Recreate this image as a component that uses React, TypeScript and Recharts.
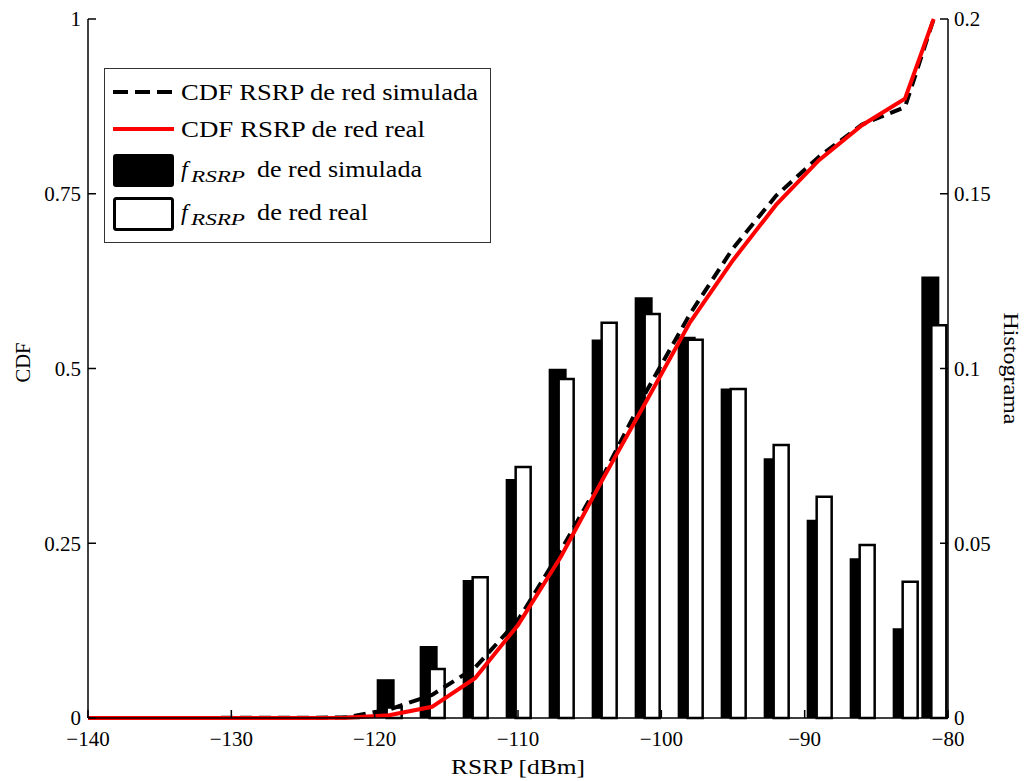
import React from "react";
import { Bar, ComposedChart, Label, Legend, Line, XAxis, YAxis } from "recharts";

// bin centres (dBm), histogram fractions and CDF values
const rsrp = [-140, -125, -122, -119, -116, -113, -110, -107, -104, -101, -98, -95, -92, -89, -86, -83, -81];
const histSim = [null, 0.0003, 0.0006, 0.0111, 0.0206, 0.0395, 0.0684, 0.0999, 0.1083, 0.1204, 0.1091, 0.0943, 0.0743, 0.0567, 0.0457, 0.0257, 0.1263];
const histReal = [null, 0.0001, 0.0003, 0.003, 0.014, 0.0403, 0.0718, 0.097, 0.1131, 0.1156, 0.1082, 0.0941, 0.0781, 0.0633, 0.0495, 0.039, 0.1124];
const cdfSim = [0, 0.0003, 0.001, 0.012, 0.033, 0.072, 0.14, 0.24, 0.349, 0.469, 0.578, 0.672, 0.747, 0.803, 0.849, 0.874, 1.0];
const cdfReal = [0, 0.0001, 0.0005, 0.004, 0.016, 0.057, 0.133, 0.231, 0.345, 0.455, 0.566, 0.655, 0.734, 0.798, 0.848, 0.886, 1.0];

const xTicks = [-140, -130, -120, -110, -100, -90, -80];
const cdfTicks = [0, 0.25, 0.5, 0.75, 1];
const histTicks = [0, 0.05, 0.1, 0.15, 0.2];

const data = rsrp.map((x, i) => ({
  x,
  histSim: histSim[i],
  histReal: histReal[i],
  cdfSim: cdfSim[i],
  cdfReal: cdfReal[i],
}));

const FONT = "'Liberation Serif', 'Times New Roman', serif";
const tickStyle = { fill: "#000", fontSize: 21, fontFamily: FONT };
const minus = (v: number) => (v < 0 ? "\u2212" + Math.abs(v) : String(v));

function LegendBox() {
  return (
    <svg width={388} height={176} style={{ display: "block", fontFamily: FONT }}>
      <rect x={0.5} y={0.5} width={386} height={174} fill="#fff" stroke="#333" strokeWidth={1} />
      <line x1={9} x2={70} y1={24} y2={24} stroke="#000" strokeWidth={4} strokeDasharray="15 7" />
      <text x={77} y={32} fontSize={24} textLength={297} lengthAdjust="spacingAndGlyphs">CDF RSRP de red simulada</text>
      <line x1={9} x2={70} y1={61} y2={61} stroke="#ff0000" strokeWidth={4} />
      <text x={77} y={69} fontSize={24} textLength={244} lengthAdjust="spacingAndGlyphs">CDF RSRP de red real</text>
      <rect x={10} y={87} width={59} height={31} fill="#000" stroke="#000" strokeWidth={2} rx={2} />
      <text x={77} y={109} fontSize={24} fontStyle="italic">f</text>
      <text x={87} y={114} fontSize={16} fontStyle="italic" textLength={54} lengthAdjust="spacingAndGlyphs">RSRP</text>
      <text x={153} y={109} fontSize={24} textLength={165} lengthAdjust="spacingAndGlyphs">de red simulada</text>
      <rect x={10.5} y={130.5} width={58} height={31} fill="#fff" stroke="#000" strokeWidth={3} rx={2} />
      <text x={77} y={152} fontSize={24} fontStyle="italic">f</text>
      <text x={87} y={157} fontSize={16} fontStyle="italic" textLength={54} lengthAdjust="spacingAndGlyphs">RSRP</text>
      <text x={153} y={152} fontSize={24} textLength={111} lengthAdjust="spacingAndGlyphs">de red real</text>
    </svg>
  );
}

export default function App() {
  return (
    <div style={{ position: "absolute", left: 0, top: 0, background: "#fff" }}>
      <ComposedChart
        width={1026}
        height={781}
        data={data}
        margin={{ top: 19, right: 0, bottom: 0, left: 0 }}
        barGap={-8}
      >
        <XAxis
          dataKey="x"
          type="number"
          domain={[-140, -80]}
          ticks={xTicks}
          tickFormatter={minus}
          height={63}
          tick={tickStyle}
          tickSize={-8}
          tickMargin={21}
          stroke="#000"
          strokeWidth={1.5}
        >
          <Label
            content={({ viewBox }: any) => (
              <text
                x={viewBox.x + viewBox.width / 2}
                y={774}
                textAnchor="middle"
                fontSize={22}
                fontFamily={FONT}
                textLength={134}
                lengthAdjust="spacingAndGlyphs"
              >
                RSRP [dBm]
              </text>
            )}
          />
        </XAxis>
        <XAxis
          xAxisId="top"
          orientation="top"
          type="number"
          domain={[-140, -80]}
          ticks={xTicks}
          height={0}
          tick={false}
          tickSize={-8}
          stroke="#000"
          strokeWidth={1.5}
        />
        <YAxis
          yAxisId="cdf"
          domain={[0, 1]}
          ticks={cdfTicks}
          width={88}
          tick={tickStyle}
          tickSize={-8}
          tickMargin={15}
          stroke="#000"
          strokeWidth={1.5}
        >
          <Label
            content={({ viewBox }: any) => {
              const cy = viewBox.y + viewBox.height / 2 - 6;
              return (
                <text x={30} y={cy} transform={`rotate(-90 30 ${cy})`} textAnchor="middle" fontSize={22} fontFamily={FONT} textLength={40} lengthAdjust="spacingAndGlyphs">
                  CDF
                </text>
              );
            }}
          />
        </YAxis>
        <YAxis
          yAxisId="hist"
          orientation="right"
          domain={[0, 0.2]}
          ticks={histTicks}
          width={78}
          tick={tickStyle}
          tickSize={-8}
          tickMargin={14}
          stroke="#000"
          strokeWidth={1.5}
        >
          <Label
            content={({ viewBox }: any) => {
              const cy = viewBox.y + viewBox.height / 2;
              return (
                <text x={1004} y={cy} transform={`rotate(90 1004 ${cy})`} textAnchor="middle" fontSize={22} fontFamily={FONT} textLength={112} lengthAdjust="spacingAndGlyphs">
                  Histograma
                </text>
              );
            }}
          />
        </YAxis>
        <Legend
          layout="horizontal"
          verticalAlign="middle"
          align="center"
          wrapperStyle={{ left: 104, top: 68, width: 388, height: 176 }}
          content={() => <LegendBox />}
        />
        <Bar yAxisId="hist" dataKey="histSim" fill="#000" barSize={18} isAnimationActive={false} />
        <Bar yAxisId="hist" dataKey="histReal" fill="#fff" stroke="#000" strokeWidth={2.5} barSize={15} isAnimationActive={false} />
        <Line yAxisId="cdf" dataKey="cdfSim" type="linear" stroke="#000" strokeWidth={4} strokeDasharray="12 7" dot={false} isAnimationActive={false} />
        <Line yAxisId="cdf" dataKey="cdfReal" type="linear" stroke="#ff0000" strokeWidth={4} dot={false} isAnimationActive={false} />
      </ComposedChart>
    </div>
  );
}
